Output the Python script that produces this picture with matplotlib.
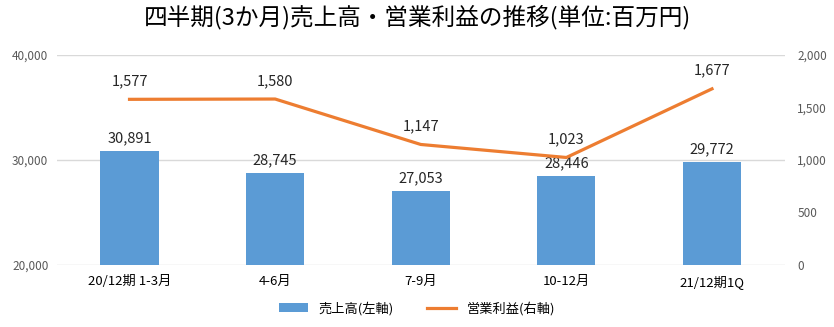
import matplotlib.pyplot as plt
import numpy as np

plt.rcParams['font.family'] = ['Noto Sans CJK JP', 'DejaVu Sans']

categories = ["20/12期 1-3月", "4-6月", "7-9月", "10-12月", "21/12期1Q"]
sales = [30891, 28745, 27053, 28446, 29772]
op_profit = [1577, 1580, 1147, 1023, 1677]

bar_color = "#5B9BD5"
line_color = "#ED7D31"

fig = plt.figure(figsize=(8.34, 3.27), dpi=100)
ax = fig.add_axes([0.068, 0.19, 0.873, 0.642])
ax2 = ax.twinx()

x = np.arange(len(categories))

ax.bar(x, sales, width=0.4, color=bar_color, label="売上高(左軸)", zorder=2)
ax.set_ylim(20000, 40000)
ax.set_yticks([20000, 30000, 40000])
ax.set_yticklabels([f"{v:,}" for v in [20000, 30000, 40000]])
ax.grid(axis='y', color='#D9D9D9', linewidth=1, zorder=0)
ax.set_axisbelow(True)
ax.set_xlim(-0.5, len(categories) - 0.5)
ax.set_xticks(x)
ax.set_xticklabels(categories, fontsize=10)

for xi, v in zip(x, sales):
    ax.annotate(f"{v:,}", (xi, v), xytext=(0, 4), textcoords='offset points',
                ha='center', va='bottom', fontsize=10.5, color='#262626')

ax2.plot(x, op_profit, color=line_color, linewidth=2.3, label="営業利益(右軸)", zorder=3)
ax2.set_ylim(0, 2000)
ax2.set_yticks([0, 500, 1000, 1500, 2000])
ax2.set_yticklabels([f"{v:,}" for v in [0, 500, 1000, 1500, 2000]])

for xi, v in zip(x, op_profit):
    ax2.annotate(f"{v:,}", (xi, v), xytext=(0, 8), textcoords='offset points',
                 ha='center', va='bottom', fontsize=10.5, color='#262626')

for a in (ax, ax2):
    for s in a.spines.values():
        s.set_visible(False)
    a.tick_params(length=0, labelsize=8.5, colors='#595959')
ax.tick_params(axis='x', colors='#000000', labelsize=9.5, pad=7)
ax.tick_params(axis='y', pad=6)
ax2.tick_params(axis='y', pad=9)

fig.suptitle("四半期(3か月)売上高・営業利益の推移(単位:百万円)", fontsize=17, y=0.985)

h1, l1 = ax.get_legend_handles_labels()
h2, l2 = ax2.get_legend_handles_labels()
fig.legend(h1 + h2, l1 + l2, loc='lower center', ncol=2, frameon=False,
           bbox_to_anchor=(0.5, 0.0), fontsize=9.5, handlelength=2.2,
           columnspacing=2.5)

fig.savefig("out.png", dpi=100)
